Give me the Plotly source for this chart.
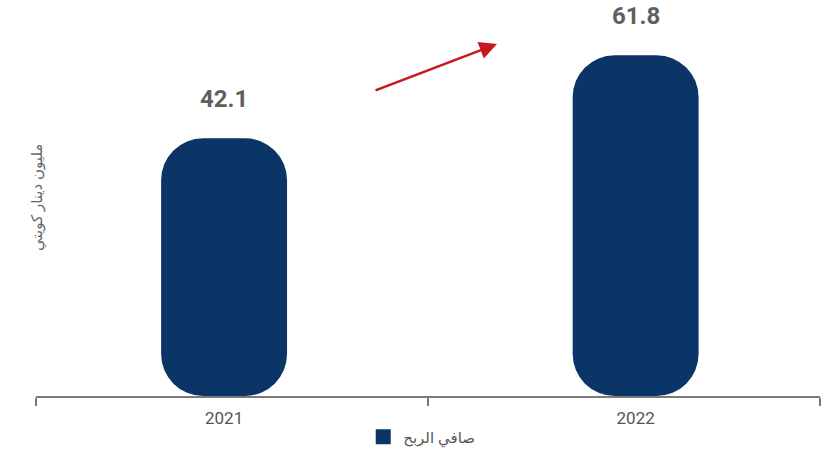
import plotly.graph_objects as go

# ---- data ----
years = [2021, 2022]
year_labels = ["2021", "2022"]
net_profit = [42.1, 61.8]
series_name = "صافي الربح"
y_title = "مليون دينار كويتي"

# ---- style ----
BAR_COLOR = "#0B3567"
AXIS_COLOR = "#7a7a7a"
TEXT_COLOR = "#5f5f5f"
ARROW_COLOR = "#C8171E"

floor_val = -19.1     # hidden axis floor (bars are drawn from here)
top_val = 74.9
x_lo, x_hi = 2020.543, 2022.448
x_mid = 2021.496
bar_w = 0.306
radius = 42

fig = go.Figure()

fig.add_trace(go.Bar(
    x=years, y=[v - floor_val for v in net_profit], base=floor_val,
    width=bar_w, marker=dict(color=BAR_COLOR, cornerradius=radius, line=dict(width=0)),
    name=series_name, showlegend=False, hoverinfo="skip",
))
# legend entry (square swatch)
fig.add_trace(go.Scatter(
    x=[None], y=[None], mode="markers", name=series_name,
    marker=dict(symbol="square", size=15, color=BAR_COLOR), showlegend=True,
))

annotations = []
for x, v in zip(years, net_profit):
    annotations.append(dict(
        x=x, y=v, xref="x", yref="y", text=f"{v:.1f}", showarrow=False,
        yanchor="middle", yshift=39,
        font=dict(family="Roboto", size=24, color=TEXT_COLOR, weight="bold"),
    ))

# red growth arrow
annotations.append(dict(
    x=0.588, y=0.889, xref="paper", yref="paper", text="",
    showarrow=True, ax=-123, ay=47, axref="pixel", ayref="pixel",
    arrowhead=2, arrowsize=1.4, arrowwidth=2.5, arrowcolor=ARROW_COLOR,
))

# y-axis title (inside plot, rotated)
annotations.append(dict(
    x=0.0, y=0.50, xref="paper", yref="paper", text=y_title, showarrow=False,
    textangle=-90, xanchor="center", yanchor="middle",
    font=dict(family="Noto Sans, DejaVu Sans", size=15, color="#666666"),
))

fig.update_layout(
    width=840, height=455,
    margin=dict(l=36, r=20, t=0, b=59, autoexpand=False),
    paper_bgcolor="white", plot_bgcolor="white",
    barmode="overlay",
    showlegend=True,
    legend=dict(orientation="h", x=0.492, xanchor="center", y=-0.145, yanchor="bottom",
                font=dict(family="Noto Sans, DejaVu Sans", size=15, color="#555555"),
                itemclick=False, itemdoubleclick=False),
    annotations=annotations,
    xaxis=dict(
        type="linear", range=[x_lo, x_hi], showgrid=False, zeroline=False,
        showline=True, linecolor=AXIS_COLOR, linewidth=2,
        tickmode="array", tickvals=years, ticktext=year_labels, ticks="",
        ticklabelstandoff=6,
        tickfont=dict(family="Roboto", size=17, color="#555555"),
        minor=dict(tickmode="array", tickvals=[x_lo, x_mid, x_hi], ticks="outside",
                   ticklen=8, tickwidth=2, tickcolor=AXIS_COLOR, showgrid=False),
        fixedrange=True,
    ),
    yaxis=dict(range=[floor_val, top_val], visible=False, fixedrange=True),
)

fig.write_html("out.html")
